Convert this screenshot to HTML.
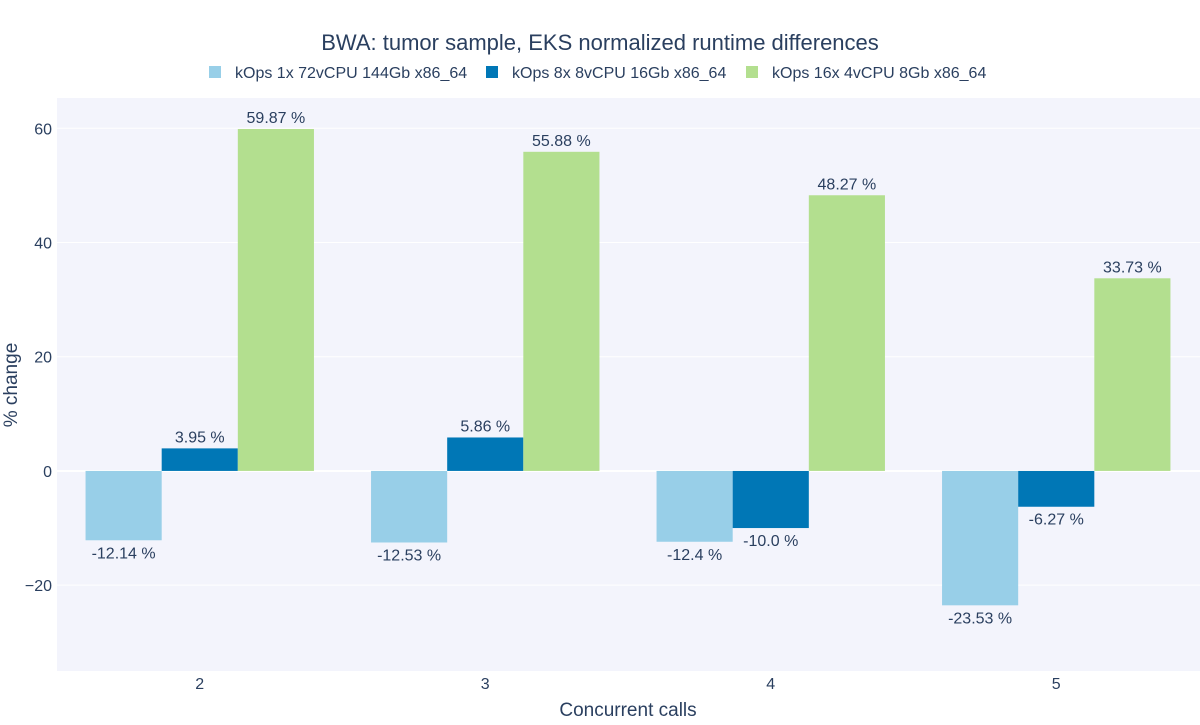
<!DOCTYPE html>
<html><head><meta charset="utf-8">
<style>
body{margin:0;background:#fff;font-family:"Liberation Sans",Arial,sans-serif;}
svg text{font-family:"Liberation Sans",Arial,sans-serif;fill:#2a3f5f;}
</style></head>
<body>
<svg id="chart" width="1200" height="720" xmlns="http://www.w3.org/2000/svg">
<rect x="57" y="98" width="1143" height="573" fill="#f3f4fc"/>
<g id="grid"></g>
<g id="bars"></g>
<g id="labels"></g>
<text x="600" y="50" text-anchor="middle" font-size="22">BWA: tumor sample, EKS normalized runtime differences</text>
<g id="legend"></g>
<text x="628" y="716" text-anchor="middle" font-size="19">Concurrent calls</text>
<text transform="translate(17,385) rotate(-90)" text-anchor="middle" font-size="19">% change</text>
</svg>
<script>
const categories = ["2","3","4","5"];
const seriesNames = ["kOps 1x 72vCPU 144Gb x86_64","kOps 8x 8vCPU 16Gb x86_64","kOps 16x 4vCPU 8Gb x86_64"];
const series1 = [-12.14,-12.53,-12.4,-23.53];
const series2 = [3.95,5.86,-10.0,-6.27];
const series3 = [59.87,55.88,48.27,33.73];
const labels1 = ["-12.14 %","-12.53 %","-12.4 %","-23.53 %"];
const labels2 = ["3.95 %","5.86 %","-10.0 %","-6.27 %"];
const labels3 = ["59.87 %","55.88 %","48.27 %","33.73 %"];
const yTicks = [-20,0,20,40,60];
const yTickLabels = ["\u221220","0","20","40","60"];
const colors = ["#98cfe8","#0077b6","#b3df8f"];
const NS="http://www.w3.org/2000/svg";
const plotL=57, plotR=1199, plotT=98, plotB=671, yMin=-35.03, yMax=65.3;
const step=(plotR-plotL)/categories.length;
function xC(i){return plotL+step*(i+0.5);}
function yS(v){return plotB-(v-yMin)/(yMax-yMin)*(plotB-plotT);}
function mk(tag,attrs,parent){const e=document.createElementNS(NS,tag);for(const k in attrs)e.setAttribute(k,attrs[k]);parent.appendChild(e);return e;}
const grid=document.getElementById('grid'),bars=document.getElementById('bars'),lab=document.getElementById('labels'),svg=document.getElementById('chart');
yTicks.forEach((t,i)=>{
  const l=mk('line',{x1:plotL,x2:1200,y1:yS(t),y2:yS(t),stroke:'#fff','stroke-width':t===0?2:1},grid);
  
  
  const tx=mk('text',{x:plotL-5,y:yS(t)+6,'text-anchor':'end','font-size':16},svg);
  tx.textContent=yTickLabels[i];
  
  
});
categories.forEach((c,i)=>{
  const tx=mk('text',{x:xC(i),y:689,'text-anchor':'middle','font-size':16},svg);
  tx.textContent=c;
  
  
});
const all=[series1,series2,series3], allL=[labels1,labels2,labels3];
const bw=step*0.8/3;
all.forEach((s,si)=>{
  s.forEach((v,i)=>{
    const x=xC(i)-step*0.4+bw*si;
    const y0=yS(0), y1=yS(v);
    const r=mk('rect',{x:x,y:Math.min(y0,y1),width:bw,height:Math.abs(y1-y0),fill:colors[si]},bars);
    
    
    const t=mk('text',{x:x+bw/2,y:v>=0?y1-6:y1+18,'text-anchor':'middle','font-size':16},lab);
    t.textContent=allL[si][i];
    
    
  });
});
const leg=document.getElementById('legend');
const legX=[209,486,746];
seriesNames.forEach((n,i)=>{
  const r=mk('rect',{x:legX[i],y:66,width:12,height:12,fill:colors[i]},leg);
  
  
  const t=mk('text',{x:legX[i]+26,y:78,'font-size':16},leg);
  t.textContent=n;
  
  
});
</script>
</body></html>
